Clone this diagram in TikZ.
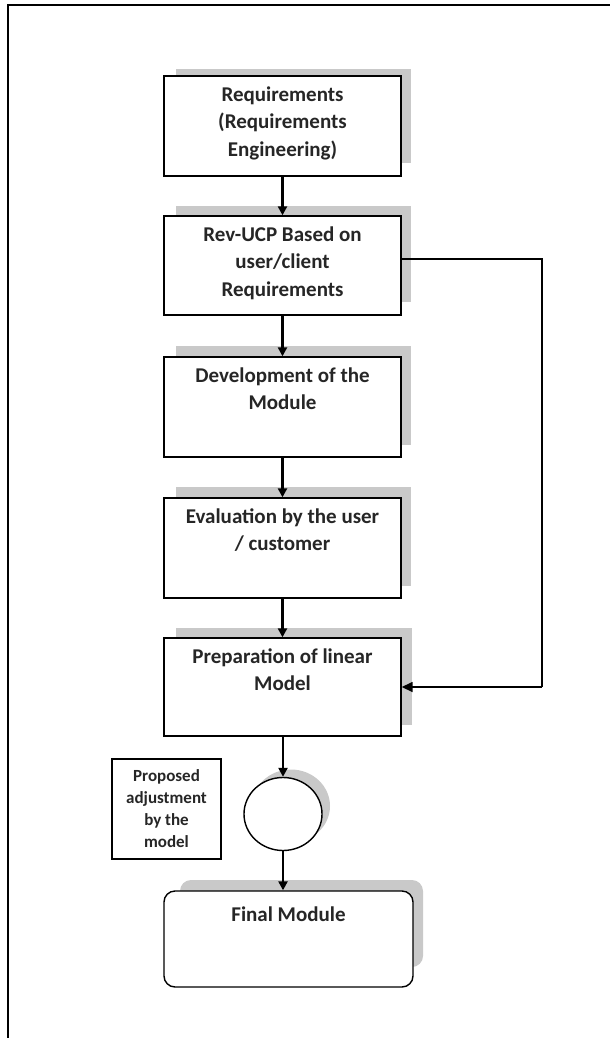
\documentclass[tikz,border=0pt]{standalone}
\usepackage{fontspec}
\setmainfont{Carlito}
\usetikzlibrary{arrows.meta,shapes.geometric}
\begin{document}
\begin{tikzpicture}[x=1pt,y=-1pt,
  box/.style={draw=black, line width=1.4pt, fill=white, minimum width=237pt, minimum height=100pt, inner sep=0pt},
  shad/.style={fill=gray!42, draw=none},
  lbl/.style={anchor=north, align=center, inner sep=0pt, yshift=-11pt,
     font=\fontsize{21}{27.5}\selectfont\bfseries, text=black!85},
  flow/.style={line width=2.6pt, -{Triangle[length=9pt,width=9pt]}},
  fb/.style={line width=1.3pt},
  fbarrow/.style={line width=1.6pt, -{Triangle[length=11pt,width=10pt]}},
]
\useasboundingbox (0,0) rectangle (610,1038);
% frame
\coordinate (frA) at (8,1038);
\coordinate (frB) at (8,5);
\coordinate (frC) at (610,5);
\draw[line width=2pt] (frA) -- (frB) -- (frC);

% shadows
\fill[shad] (176,69) rectangle (411,163);
\fill[shad] (176,206) rectangle (411,302);
\fill[shad] (176,346) rectangle (411,445);
\fill[shad] (176,487) rectangle (411,586);
\fill[shad] (176,628) rectangle (412,725);
\fill[shad, rounded corners=11pt] (180,880) rectangle (423,967);
\fill[shad] (291,806) ellipse (39 and 36.5);

% boxes
\node[box, minimum height=100pt, label={[lbl]north:Requirements\\(Requirements\\Engineering)}] (b1) at (282.5,126) {};
\node[box, minimum height=99pt, label={[lbl]north:Rev-UCP Based on\\user/client\\Requirements}] (b2) at (282.5,265.5) {};
\node[box, minimum height=100pt, label={[lbl]north:Development of the\\Module}] (b3) at (282.5,407) {};
\node[box, minimum height=100pt, label={[lbl]north:Evaluation by the user\\/ customer}] (b4) at (282.5,548) {};
\node[box, minimum height=98pt, label={[lbl]north:Preparation of linear\\Model}] (b5) at (282.5,687) {};
\node[draw=black, line width=1.4pt, fill=white, ellipse, minimum width=78pt, minimum height=73pt, inner sep=0pt] (circ) at (283,814) {};
\node[box, rounded corners=11pt, minimum width=249pt, minimum height=96pt,
      label={[lbl, yshift=-5pt]north:Final Module}] (fin) at (288.5,939) {};
\node[draw=black, line width=1.2pt, fill=white, minimum width=109pt, minimum height=100pt, inner sep=0pt,
      align=center, font=\fontsize{17}{22}\selectfont\bfseries, text=black!85] (prop) at (166.5,809)
      {Proposed\\adjustment\\by the\\model};

% flow arrows
\draw[flow] (b1) -- (b2);
\draw[flow] (b2) -- (b3);
\draw[flow] (b3) -- (b4);
\draw[flow] (b4) -- (b5);
\draw[flow] (b5.south -| circ.north) -- (circ.north);
\draw[flow] (circ.south) -- (circ.south |- fin.north);

% feedback
\coordinate (f1) at (542,259);
\coordinate (f2) at (542,687);
\draw[fb] (f1 -| b2.east) -- (f1) -- (f2);
\draw[fbarrow] (f2) -- (b5.east);
\end{tikzpicture}
\end{document}
